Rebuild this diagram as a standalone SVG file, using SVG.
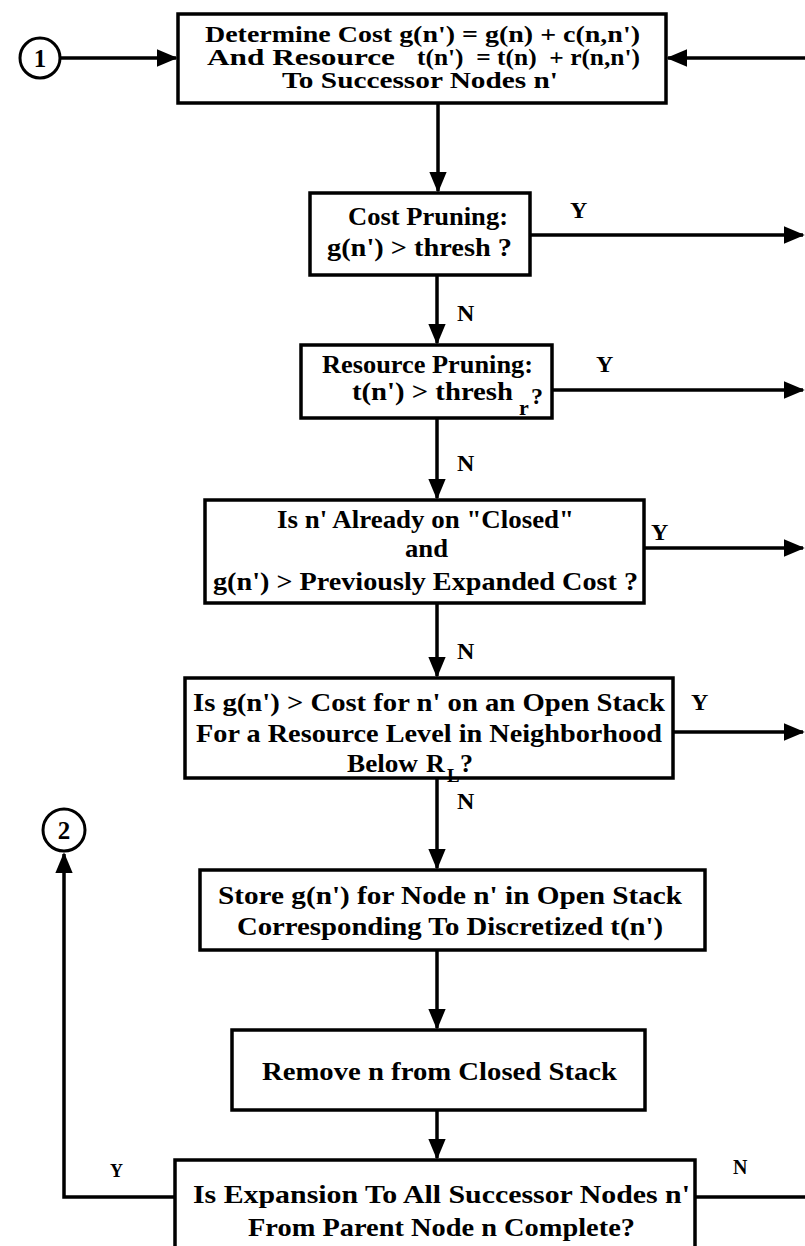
<svg xmlns="http://www.w3.org/2000/svg" width="805" height="1246" viewBox="0 0 805 1246">
<defs>
<marker id="ah" markerWidth="6" markerHeight="5" refX="5.5" refY="2.5" orient="auto" markerUnits="strokeWidth">
<path d="M0,0 L6,2.5 L0,5 Z" fill="#000"/>
</marker>
<style>
.box{fill:#fff;stroke:#000;stroke-width:3.5}
.t{font-family:"Liberation Serif","Times New Roman",serif;font-size:26px;font-weight:bold;fill:#000}
.s{font-size:23px}
.l{font-family:"Liberation Serif","Times New Roman",serif;font-size:24px;font-weight:bold;fill:#000}
.c{fill:none;stroke:#000;stroke-width:3.5;marker-end:url(#ah)}
.circ{fill:#fff;stroke:#000;stroke-width:3}
</style>
</defs>
<rect width="805" height="1246" fill="#fff"/>
<g id="connectors">
<path class="c" d="M60,58 H176"/>
<path class="c" d="M805,58 H668"/>
<path class="c" d="M438,103 V191"/>
<path class="c" d="M530,235 H803"/>
<path class="c" d="M437,275 V343"/>
<path class="c" d="M552,390 H803"/>
<path class="c" d="M437,418 V498"/>
<path class="c" d="M644,548 H803"/>
<path class="c" d="M437,603 V676"/>
<path class="c" d="M673,732 H803"/>
<path class="c" d="M437,778 V868"/>
<path class="c" d="M437,950 V1028"/>
<path class="c" d="M437,1110 V1158"/>
<path class="c" d="M175,1197 H64 V854"/>
<path class="c" d="M695,1197 H805" style="marker-end:none"/>
<text class="l" x="570" y="218">Y</text>
<text class="l" x="596" y="372">Y</text>
<text class="l" x="651" y="540">Y</text>
<text class="l" x="691" y="710">Y</text>
<text class="l" x="457" y="321">N</text>
<text class="l" x="457" y="471">N</text>
<text class="l" x="457" y="659">N</text>
<text class="l" x="457" y="809">N</text>
<text class="l" x="110" y="1177" style="font-size:18px">Y</text>
<text class="l" x="733" y="1174" style="font-size:20px">N</text>
</g>
<g id="c1">
<circle class="circ" cx="40" cy="58" r="20"/>
<text class="t" x="40" y="67" text-anchor="middle" style="font-size:25px">1</text>
</g>
<g id="c2">
<circle class="circ" cx="64" cy="830" r="21"/>
<text class="t" x="64" y="839" text-anchor="middle" style="font-size:25px">2</text>
</g>
<g id="n1">
<rect class="box" x="178" y="14" width="488" height="89"/>
<text class="t s" x="205" y="42" textLength="435" lengthAdjust="spacingAndGlyphs">Determine Cost g(n') = g(n) + c(n,n')</text>
<text class="t s" x="207" y="65" textLength="188" lengthAdjust="spacingAndGlyphs">And Resource</text>
<text class="t s" x="417" y="65" textLength="223" lengthAdjust="spacingAndGlyphs" xml:space="preserve">t(n')  = t(n)  + r(n,n')</text>
<text class="t s" x="282" y="88" textLength="276" lengthAdjust="spacingAndGlyphs">To Successor Nodes n'</text>
</g>
<g id="n2">
<rect class="box" x="310" y="193" width="220" height="82"/>
<text class="t" x="348" y="225" textLength="160" lengthAdjust="spacingAndGlyphs">Cost Pruning:</text>
<text class="t" x="327" y="256" textLength="185" lengthAdjust="spacingAndGlyphs">g(n') &gt; thresh ?</text>
</g>
<g id="n3">
<rect class="box" x="301" y="345" width="251" height="73"/>
<text class="t" x="322" y="373" textLength="211" lengthAdjust="spacingAndGlyphs">Resource Pruning:</text>
<text class="t" x="352" y="400" textLength="161" lengthAdjust="spacingAndGlyphs">t(n') &gt; thresh</text>
<text class="t" x="519" y="415" style="font-size:22px">r</text>
<text class="t" x="531" y="404" style="font-size:24px">?</text>
</g>
<g id="n4">
<rect class="box" x="205" y="500" width="439" height="103"/>
<text class="t" x="277" y="528" textLength="297" lengthAdjust="spacingAndGlyphs">Is n' Already on "Closed"</text>
<text class="t" x="405" y="557" textLength="43" lengthAdjust="spacingAndGlyphs">and</text>
<text class="t" x="213" y="590" textLength="425" lengthAdjust="spacingAndGlyphs">g(n') &gt; Previously Expanded Cost ?</text>
</g>
<g id="n5">
<rect class="box" x="185" y="678" width="488" height="100"/>
<text class="t" x="193" y="711" textLength="472" lengthAdjust="spacingAndGlyphs">Is g(n') &gt; Cost for n' on an Open Stack</text>
<text class="t" x="196" y="742" textLength="466" lengthAdjust="spacingAndGlyphs">For a Resource Level in Neighborhood</text>
<text class="t" x="347" y="772" textLength="71" lengthAdjust="spacingAndGlyphs">Below</text>
<text class="t" x="426" y="772">R</text>
<text class="t" x="447" y="782" style="font-size:19px">L</text>
<text class="t" x="460" y="772">?</text>
</g>
<g id="n6">
<rect class="box" x="200" y="870" width="505" height="80"/>
<text class="t" x="218" y="904" textLength="464" lengthAdjust="spacingAndGlyphs">Store g(n') for Node n' in Open Stack</text>
<text class="t" x="237" y="935" textLength="426" lengthAdjust="spacingAndGlyphs">Corresponding To Discretized t(n')</text>
</g>
<g id="n7">
<rect class="box" x="232" y="1030" width="413" height="80"/>
<text class="t" x="262" y="1080" textLength="355" lengthAdjust="spacingAndGlyphs">Remove n from Closed Stack</text>
</g>
<g id="n8">
<rect class="box" x="175" y="1160" width="520" height="95"/>
<text class="t" x="193" y="1203" textLength="497" lengthAdjust="spacingAndGlyphs">Is Expansion To All Successor Nodes n'</text>
<text class="t" x="248" y="1236" textLength="387" lengthAdjust="spacingAndGlyphs">From Parent Node n Complete?</text>
</g>
</svg>
